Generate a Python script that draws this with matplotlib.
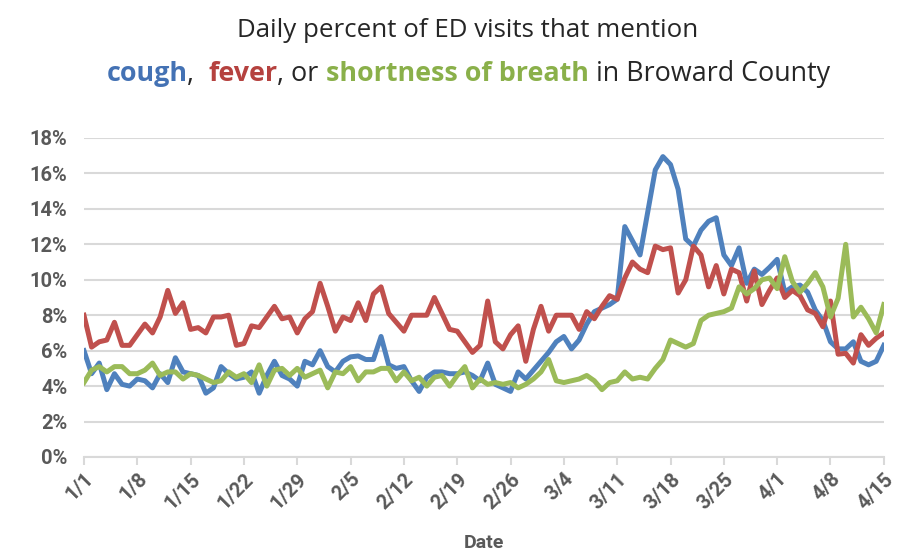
import matplotlib
matplotlib.use("Agg")
import matplotlib.pyplot as plt
import matplotlib.transforms as mtransforms
import pandas as pd

# daily dates 1/1 - 4/15 (2020)
dates = pd.date_range("2020-01-01", "2020-04-15", freq="D")

# percent of ED visits
cough = [6.0, 4.7, 5.3, 3.8, 4.7, 4.1, 4.0, 4.4, 4.3, 3.9,
         4.7, 4.2, 5.6, 4.8, 4.7, 4.6, 3.6, 3.9, 5.1, 4.7,
         4.4, 4.5, 4.8, 3.6, 4.6, 5.4, 4.6, 4.4, 4.0, 5.4,
         5.2, 6.0, 5.1, 4.8, 5.4, 5.65, 5.7, 5.5, 5.5, 6.8,
         5.2, 5.0, 5.1, 4.3, 3.7, 4.5, 4.8, 4.8, 4.7, 4.7,
         4.8, 4.6, 4.3, 5.3, 4.1, 3.9, 3.7, 4.8, 4.4, 4.9,
         5.4, 5.9, 6.5, 6.8, 6.1, 6.6, 7.5, 8.2, 8.4, 8.6,
         8.9, 13.0, 12.2, 11.4, 13.8, 16.2, 16.95, 16.5, 15.1, 12.3,
         11.9, 12.8, 13.3, 13.5, 11.4, 10.8, 11.8, 9.8, 10.6, 10.3,
         10.7, 11.15, 9.3, 9.6, 9.7, 9.3, 8.3, 7.7, 6.5, 6.1,
         6.1, 6.5, 5.4, 5.2, 5.4, 6.3]

fever = [8.0, 6.2, 6.5, 6.6, 7.6, 6.3, 6.3, 6.9, 7.5, 7.0,
         7.9, 9.4, 8.1, 8.7, 7.2, 7.3, 7.0, 7.9, 7.9, 8.0,
         6.3, 6.4, 7.4, 7.3, 7.9, 8.5, 7.8, 7.9, 7.0, 7.8,
         8.2, 9.8, 8.5, 7.1, 7.9, 7.7, 8.7, 7.7, 9.2, 9.6,
         8.1, 7.6, 7.1, 8.0, 8.0, 8.0, 9.0, 8.1, 7.2, 7.1,
         6.5, 5.9, 6.3, 8.8, 6.5, 6.1, 6.9, 7.4, 5.4, 7.2,
         8.5, 7.1, 8.0, 8.0, 8.0, 7.2, 8.2, 7.8, 8.5, 9.1,
         8.9, 10.1, 11.0, 10.6, 10.4, 11.9, 11.7, 11.8, 9.25, 10.0,
         11.9, 11.4, 9.6, 10.8, 9.2, 10.6, 10.4, 8.8, 10.5, 8.6,
         9.4, 10.1, 9.0, 9.4, 9.1, 8.3, 8.1, 7.35, 8.8, 5.8,
         5.85, 5.3, 6.9, 6.3, 6.7, 7.0]

breath = [4.2, 4.9, 5.1, 4.8, 5.1, 5.1, 4.7, 4.7, 4.9, 5.3,
          4.6, 4.8, 4.8, 4.4, 4.7, 4.6, 4.4, 4.2, 4.3, 4.8,
          4.5, 4.7, 4.2, 5.2, 4.0, 4.9, 5.0, 4.6, 5.0, 4.5,
          4.7, 4.9, 3.9, 4.8, 4.7, 5.1, 4.3, 4.8, 4.8, 5.0,
          5.0, 4.3, 4.8, 4.3, 4.5, 4.0, 4.5, 4.6, 4.0, 4.6,
          5.1, 3.9, 4.4, 4.1, 4.2, 4.1, 4.2, 3.9, 4.1, 4.4,
          4.8, 5.5, 4.3, 4.2, 4.3, 4.4, 4.6, 4.3, 3.8, 4.2,
          4.3, 4.8, 4.4, 4.5, 4.4, 5.0, 5.5, 6.6, 6.4, 6.2,
          6.4, 7.7, 8.0, 8.1, 8.2, 8.4, 9.6, 9.2, 9.5, 10.0,
          10.1, 9.5, 11.3, 9.9, 9.3, 9.8, 10.4, 9.6, 7.9, 8.95,
          12.0, 7.9, 8.45, 7.8, 7.0, 8.6]

y_ticks = [0, 2, 4, 6, 8, 10, 12, 14, 16, 18]

BLUE = "#4F81BD"
RED = "#C0504D"
GREEN = "#9BBB59"
GRAY = "#595959"
GRID = "#D9D9D9"

plt.rcParams["font.family"] = ["Open Sans", "DejaVu Sans"]

fig = plt.figure(figsize=(9, 5.53), dpi=100)
ax = fig.add_axes([0.0933, 0.1736, 0.8887, 0.5769])

x = list(range(len(dates)))
ax.plot(x, cough, color=BLUE, lw=3.6, solid_joinstyle="round", zorder=3)
ax.plot(x, fever, color=RED, lw=3.6, solid_joinstyle="round", zorder=3)
ax.plot(x, breath, color=GREEN, lw=3.6, solid_joinstyle="round", zorder=3)

ax.set_xlim(0, len(dates) - 1)
ax.set_ylim(0, 18)
ax.set_yticks(y_ticks)
ax.set_yticklabels(["{}%".format(v) for v in y_ticks])
ax.yaxis.grid(True, color=GRID, lw=1.5)
ax.set_axisbelow(True)

tick_pos = x[::7]
ax.set_xticks(tick_pos)
ax.set_xticklabels(["{}/{}".format(d.month, d.day) for d in dates[::7]],
                   rotation=45, ha="right", rotation_mode="anchor")
shift = mtransforms.ScaledTranslation(10 / 72, -3 / 72, fig.dpi_scale_trans)
for lbl in ax.get_xticklabels():
    lbl.set_transform(lbl.get_transform() + shift)

for s in ["top", "right", "left"]:
    ax.spines[s].set_visible(False)
ax.spines["bottom"].set_color(GRID)
ax.spines["bottom"].set_linewidth(1.5)
ax.tick_params(axis="x", colors=GRID, length=6, width=1.5, pad=3)
ax.tick_params(axis="y", length=0, pad=12)
for lbl in ax.get_xticklabels() + ax.get_yticklabels():
    lbl.set_color(GRAY)
    lbl.set_fontsize(14.5)
    lbl.set_fontweight("bold")
    lbl.set_family(["Roboto", "DejaVu Sans"])

ax.set_xlabel("Date", fontsize=14, fontweight="bold", color=GRAY,
              family=["Roboto", "DejaVu Sans"], labelpad=15)

# title, line 1
fig.text(0.52, 0.944, "Daily percent of ED visits that mention",
         ha="center", va="center", fontsize=18.6, color="#262626")

# title, line 2 with coloured words
pieces = [("cough", "#4472B4", "bold"), (",  ", "#262626", "normal"),
          ("fever", "#B5423F", "bold"), (", or ", "#262626", "normal"),
          ("shortness of breath", "#8AB04A", "bold"),
          (" in Broward County", "#262626", "normal")]
texts = [fig.text(0, 0.867, t, color=c, fontweight=w, fontsize=19.4,
                  ha="left", va="center") for t, c, w in pieces]
fig.canvas.draw()
r = fig.canvas.get_renderer()
widths = [t.get_window_extent(r).width / fig.bbox.width for t in texts]
xpos = 0.52 - sum(widths) / 2
for t, w in zip(texts, widths):
    t.set_x(xpos)
    xpos += w

fig.savefig("out.png", dpi=100)
